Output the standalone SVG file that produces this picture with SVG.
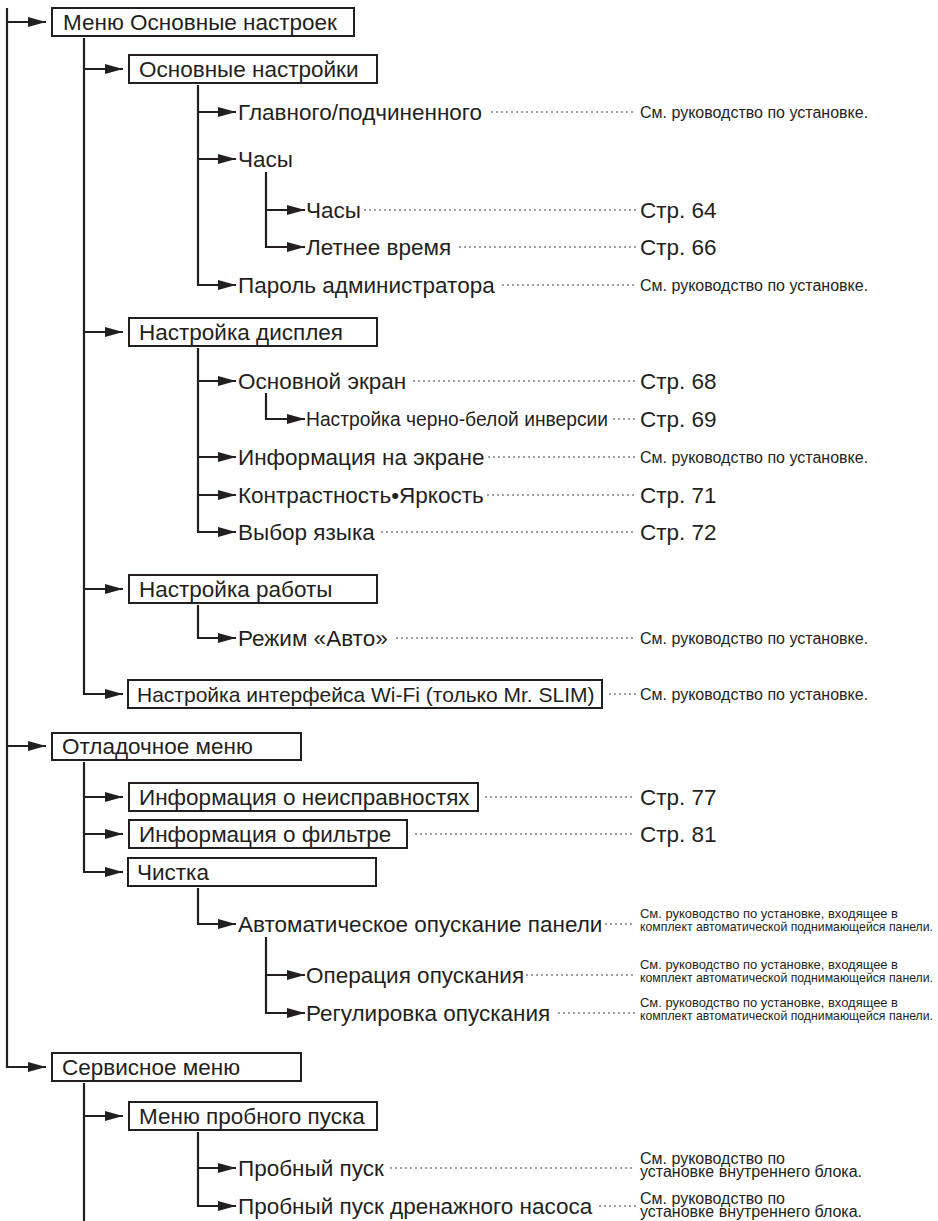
<svg xmlns="http://www.w3.org/2000/svg" width="938" height="1221" viewBox="0 0 938 1221">
<style>
text{font-family:"Liberation Sans",Arial,sans-serif;fill:#231f20}
.t{font-size:22.5px}
.tw{font-size:21px}
.tc{font-size:20px}
.ts{font-size:16px}
.tn{font-size:13px}
.box{fill:#fff;stroke:#231f20;stroke-width:2}
.ln{fill:none;stroke:#231f20;stroke-width:2.2;stroke-linejoin:miter}
.ar{marker-end:url(#ah)}
.dots{fill:none;stroke:#231f20;stroke-width:1.6;stroke-linecap:round;stroke-dasharray:0 5}
</style>
<defs>
<marker id="ah" markerUnits="userSpaceOnUse" markerWidth="18" markerHeight="10" viewBox="0 0 18 10" refX="18" refY="5" orient="auto">
<path d="M0,0 L18,5 L0,10 z" fill="#231f20"/>
</marker>
</defs>
<rect width="938" height="1221" fill="#fff"/>
<g id="connectors">
<path class="ln ar" d="M7,8 V1067 H46"/>
<path class="ln ar" d="M7,22 H46"/>
<path class="ln ar" d="M7,746 H46"/>
<path class="ln ar" d="M84,38 V694 H123"/>
<path class="ln ar" d="M84,69 H123"/>
<path class="ln ar" d="M84,332 H123"/>
<path class="ln ar" d="M84,589 H123"/>
<path class="ln ar" d="M84,762 V872 H123"/>
<path class="ln ar" d="M84,797 H123"/>
<path class="ln ar" d="M84,834 H123"/>
<path class="ln" d="M84,1083 V1221"/>
<path class="ln ar" d="M84,1116 H123"/>
<path class="ln ar" d="M198,85 V285 H236"/>
<path class="ln ar" d="M198,112 H236"/>
<path class="ln ar" d="M198,159 H236"/>
<path class="ln ar" d="M266,172 V247 H305"/>
<path class="ln ar" d="M266,210 H305"/>
<path class="ln ar" d="M198,348 V532 H236"/>
<path class="ln ar" d="M198,381 H236"/>
<path class="ln ar" d="M198,457 H236"/>
<path class="ln ar" d="M198,495 H236"/>
<path class="ln ar" d="M266,393 V419 H305"/>
<path class="ln ar" d="M198,605 V638 H236"/>
<path class="ln ar" d="M198,888 V924 H236"/>
<path class="ln ar" d="M266,937 V1013 H305"/>
<path class="ln ar" d="M266,975 H305"/>
<path class="ln ar" d="M198,1132 V1206 H236"/>
<path class="ln ar" d="M198,1168 H236"/>
</g>
<g id="n1"><rect class="box" x="52" y="8" width="302" height="28"/><text class="t" x="63" y="30">Меню Основные настроек</text></g>
<g id="n2"><rect class="box" x="129" y="55" width="248" height="28"/><text class="t" x="139" y="77">Основные настройки</text></g>
<g id="n3"><text class="t" x="238" y="120">Главного/подчиненного</text><path class="dots" d="M492,112 H636"/><text class="ts" x="640" y="117.6">См. руководство по установке.</text></g>
<g id="n4"><text class="t" x="238" y="167">Часы</text></g>
<g id="n5"><text class="t" x="306" y="218">Часы</text><path class="dots" d="M365,210 H636"/><text class="t" x="640" y="218">Стр. 64</text></g>
<g id="n6"><text class="t" x="306" y="255">Летнее время</text><path class="dots" d="M460,247 H636"/><text class="t" x="640" y="255">Стр. 66</text></g>
<g id="n7"><text class="t" x="238" y="293">Пароль администратора</text><path class="dots" d="M503,285 H636"/><text class="ts" x="640" y="290.6">См. руководство по установке.</text></g>
<g id="n8"><rect class="box" x="129" y="318" width="248" height="28"/><text class="t" x="139" y="340">Настройка дисплея</text></g>
<g id="n9"><text class="t" x="238" y="389">Основной экран</text><path class="dots" d="M414,381 H636"/><text class="t" x="640" y="389">Стр. 68</text></g>
<g id="n10"><text class="tc" x="306" y="426" textLength="302" lengthAdjust="spacingAndGlyphs">Настройка черно-белой инверсии</text><path class="dots" d="M614,419 H636"/><text class="t" x="640" y="427">Стр. 69</text></g>
<g id="n11"><text class="t" x="238" y="465">Информация на экране</text><path class="dots" d="M489,457 H636"/><text class="ts" x="640" y="462.6">См. руководство по установке.</text></g>
<g id="n12"><text class="t" x="238" y="503">Контрастность•Яркость</text><path class="dots" d="M488,495 H636"/><text class="t" x="640" y="503">Стр. 71</text></g>
<g id="n13"><text class="t" x="238" y="540">Выбор языка</text><path class="dots" d="M382,532 H636"/><text class="t" x="640" y="540">Стр. 72</text></g>
<g id="n14"><rect class="box" x="129" y="575" width="248" height="28"/><text class="t" x="139" y="597">Настройка работы</text></g>
<g id="n15"><text class="t" x="238" y="646">Режим «Авто»</text><path class="dots" d="M397,638 H636"/><text class="ts" x="640" y="643.6">См. руководство по установке.</text></g>
<g id="n16"><rect class="box" x="128" y="680" width="474" height="28"/><text class="tw" x="137" y="701.5">Настройка интерфейса Wi-Fi (только Mr. SLIM)</text><path class="dots" d="M610,694 H636"/><text class="ts" x="640" y="699.6">См. руководство по установке.</text></g>
<g id="n17"><rect class="box" x="52" y="733" width="249" height="27"/><text class="t" x="62" y="754">Отладочное меню</text></g>
<g id="n18"><rect class="box" x="129" y="783" width="349" height="28"/><text class="t" x="139" y="805">Информация о неисправностях</text><path class="dots" d="M486,797 H636"/><text class="t" x="640" y="805">Стр. 77</text></g>
<g id="n19"><rect class="box" x="129" y="820" width="278" height="28"/><text class="t" x="139" y="842">Информация о фильтре</text><path class="dots" d="M416,834 H636"/><text class="t" x="640" y="842">Стр. 81</text></g>
<g id="n20"><rect class="box" x="128" y="858" width="248" height="28"/><text class="t" x="137" y="880">Чистка</text></g>
<g id="n21"><text class="t" x="238" y="932">Автоматическое опускание панели</text><path class="dots" d="M606,924 H636"/><text class="tn" x="640" y="918" textLength="258" lengthAdjust="spacingAndGlyphs">См. руководство по установке, входящее в</text><text class="tn" x="640" y="931" textLength="293" lengthAdjust="spacingAndGlyphs">комплект автоматической поднимающейся панели.</text></g>
<g id="n22"><text class="t" x="306" y="983">Операция опускания</text><path class="dots" d="M527,975 H636"/><text class="tn" x="640" y="969" textLength="258" lengthAdjust="spacingAndGlyphs">См. руководство по установке, входящее в</text><text class="tn" x="640" y="982" textLength="293" lengthAdjust="spacingAndGlyphs">комплект автоматической поднимающейся панели.</text></g>
<g id="n23"><text class="t" x="306" y="1021">Регулировка опускания</text><path class="dots" d="M559,1013 H636"/><text class="tn" x="640" y="1007" textLength="258" lengthAdjust="spacingAndGlyphs">См. руководство по установке, входящее в</text><text class="tn" x="640" y="1020" textLength="293" lengthAdjust="spacingAndGlyphs">комплект автоматической поднимающейся панели.</text></g>
<g id="n24"><rect class="box" x="52" y="1053" width="249" height="28"/><text class="t" x="62" y="1075">Сервисное меню</text></g>
<g id="n25"><rect class="box" x="129" y="1102" width="248" height="28"/><text class="t" x="139" y="1124">Меню пробного пуска</text></g>
<g id="n26"><text class="t" x="238" y="1176">Пробный пуск</text><path class="dots" d="M391,1168 H636"/><text class="ts" x="640" y="1164">См. руководство по</text><text class="ts" x="640" y="1177">установке внутреннего блока.</text></g>
<g id="n27"><text class="t" x="238" y="1214">Пробный пуск дренажного насоса</text><path class="dots" d="M600,1206 H636"/><text class="ts" x="640" y="1204">См. руководство по</text><text class="ts" x="640" y="1217">установке внутреннего блока.</text></g>
</svg>
